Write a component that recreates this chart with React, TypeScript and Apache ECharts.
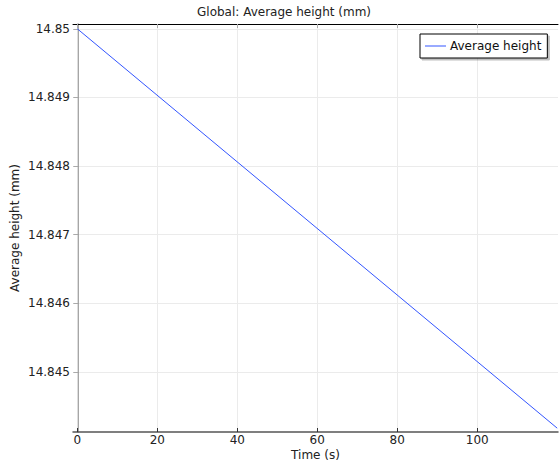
import React, { useEffect, useRef } from "react";
import * as echarts from "echarts";

const timeValues = [0, 120];
const heightValues = [14.85, 14.84418];
const xTicks = [0, 20, 40, 60, 80, 100];
const yTicks = [14.845, 14.846, 14.847, 14.848, 14.849, 14.85];
const yTickLabels = ["14.845", "14.846", "14.847", "14.848", "14.849", "14.85"];

const FONT = "DejaVu Sans";

export default function App() {
  const ref = useRef<HTMLDivElement>(null);
  useEffect(() => {
    if (!ref.current) return;
    const chart = echarts.init(ref.current, undefined, { renderer: "svg" });
    const data = timeValues.map((t, i) => [t, heightValues[i]]);
    chart.setOption({
      animation: false,
      backgroundColor: "#ffffff",
      textStyle: { fontFamily: FONT },
      title: {
        text: "Global: Average height (mm)",
        left: 197,
        top: 6,
        padding: 0,
        textStyle: { fontFamily: FONT, fontSize: 12, fontWeight: "normal", color: "#222" },
      },
      legend: {
        left: 420,
        top: 34,
        orient: "vertical",
        backgroundColor: "#fff",
        borderColor: "#000",
        borderWidth: 1,
        borderRadius: 0,
        padding: [5, 6, 5, 5],
        itemWidth: 21,
        itemHeight: 1,
        shadowColor: "rgba(0,0,0,0.25)",
        shadowBlur: 0,
        shadowOffsetX: 2,
        shadowOffsetY: 2,
        textStyle: { fontFamily: FONT, fontSize: 12, color: "#111", padding: [0, 0, 0, -1], lineHeight: 14 },
        data: [{ name: "Average height", icon: "rect" }],
      },
      grid: { left: 73, top: 24, right: 2, bottom: 29, containLabel: false, outerBoundsMode: "none" },
      xAxis: [
        {
          type: "value",
          min: -1.08,
          max: 120.2,
          name: "Time (s)",
          nameLocation: "middle",
          nameGap: 17,
          nameMoveOverlap: false,
          nameTextStyle: { fontFamily: FONT, fontSize: 12, color: "#222", lineHeight: 12 },
          axisLine: { show: true, lineStyle: { color: "#555", width: 1.5 } },
          axisTick: { show: true, inside: true, length: 4, customValues: xTicks, lineStyle: { color: "#333" } },
          axisLabel: { customValues: xTicks, fontFamily: FONT, fontSize: 12, color: "#222", margin: 2, lineHeight: 12 },
          splitLine: { show: true, lineStyle: { color: "#ebebeb", width: 1 } },
        },
        {
          type: "value",
          position: "top",
          min: -1.08,
          max: 120.2,
          axisLine: { show: true, lineStyle: { color: "#000", width: 1 } },
          axisTick: { show: true, inside: true, length: 4, customValues: xTicks, lineStyle: { color: "#aaa" } },
          axisLabel: { show: false },
          splitLine: { show: false },
        },
      ],
      yAxis: [
        {
          type: "value",
          min: 14.844124,
          max: 14.85007,
          name: "Average height (mm)",
          nameLocation: "middle",
          nameGap: 52,
          nameMoveOverlap: false,
          nameTextStyle: { fontFamily: FONT, fontSize: 12, color: "#222", lineHeight: 12 },
          axisLine: { show: true, lineStyle: { color: "#888", width: 1.5 } },
          axisTick: { show: true, inside: false, length: 3, customValues: yTicks, lineStyle: { color: "#333" } },
          axisLabel: {
            customValues: yTicks,
            fontFamily: FONT,
            fontSize: 12,
            color: "#222",
            margin: 3,
            formatter: (v: number) => {
              const idx = yTicks.findIndex((t) => Math.abs(t - v) < 1e-7);
              return idx >= 0 ? yTickLabels[idx] : "";
            },
          },
          splitLine: { show: true, lineStyle: { color: "#ebebeb", width: 1 } },
        },
        {
          type: "value",
          position: "right",
          min: 14.844124,
          max: 14.85007,
          axisLine: { show: true, lineStyle: { color: "#ddd", width: 1 } },
          axisTick: { show: true, inside: true, length: 4, customValues: yTicks, lineStyle: { color: "#aaa" } },
          axisLabel: { show: false },
          splitLine: { show: false },
        },
      ],
      series: [
        {
          name: "Average height",
          type: "line",
          data,
          symbol: "none",
          xAxisIndex: 0,
          yAxisIndex: 0,
          lineStyle: { color: "#3355ff", width: 1 },
          itemStyle: { color: "#3355ff" },
        },
      ],
    });
    return () => chart.dispose();
  }, []);
  return <div ref={ref} style={{ width: 560, height: 461, position: "absolute", left: 0, top: 0 }} />;
}
